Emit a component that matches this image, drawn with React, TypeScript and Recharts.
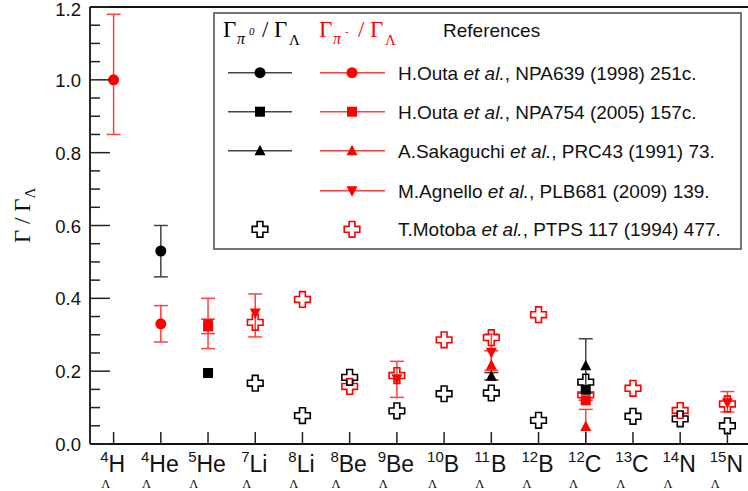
import React from 'react'
import { ComposedChart, Scatter, XAxis, YAxis, ErrorBar, ReferenceLine } from 'recharts'

const massNumbers = ['4', '4', '5', '7', '8', '8', '9', '10', '11', '12', '12', '13', '14', '15']
const symbols = ['H', 'He', 'He', 'Li', 'Li', 'Be', 'Be', 'B', 'B', 'B', 'C', 'C', 'N', 'N']
const nuclei = massNumbers.map((a, i) => a + symbols[i])

const yMajorTicks = [0, 0.2, 0.4, 0.6, 0.8, 1.0, 1.2]
const yMinorTicks = [
  0.05, 0.1, 0.15, 0.25, 0.3, 0.35, 0.45, 0.5, 0.55, 0.65, 0.7, 0.75,
  0.85, 0.9, 0.95, 1.05, 1.1, 1.15,
]

type Row = [string, number, number, number]

// [nucleus, value, error below, error above]
const outa98Pi0: Row[] = [['4He', 0.53, 0.071, 0.07]]
const outa98PiMinus: Row[] = [['4H', 1.0, 0.15, 0.18], ['4He', 0.33, 0.05, 0.05]]
const outa05Pi0: Row[] = [['5He', 0.195, 0, 0], ['12C', 0.149, 0, 0]]
const outa05PiMinus: Row[] = [['5He', 0.323, 0.02, 0.02], ['12C', 0.12, 0, 0]]
const sakaguchiPi0: Row[] = [['11B', 0.186, 0.01, 0.01], ['12C', 0.215, 0.075, 0.074]]
const sakaguchiPiMinus: Row[] = [['11B', 0.216, 0.04, 0.04], ['12C', 0.048, 0.048, 0.047]]
const agnelloPiMinus: Row[] = [
  ['5He', 0.33, 0.068, 0.07],
  ['7Li', 0.36, 0.066, 0.052],
  ['9Be', 0.179, 0.051, 0.048],
  ['11B', 0.252, 0.05, 0.05],
  ['15N', 0.113, 0.025, 0.031],
]
const motobaPi0: Row[] = [
  ['7Li', 0.167, 0, 0], ['8Li', 0.078, 0, 0], ['8Be', 0.183, 0, 0], ['9Be', 0.091, 0, 0],
  ['10B', 0.138, 0, 0], ['11B', 0.14, 0, 0], ['12B', 0.065, 0, 0], ['12C', 0.17, 0, 0],
  ['13C', 0.076, 0, 0], ['14N', 0.069, 0, 0], ['15N', 0.05, 0, 0],
]
const motobaPiMinus: Row[] = [
  ['7Li', 0.334, 0, 0], ['8Li', 0.397, 0, 0], ['8Be', 0.158, 0, 0], ['9Be', 0.188, 0, 0],
  ['10B', 0.286, 0, 0], ['11B', 0.292, 0, 0], ['12B', 0.355, 0, 0], ['12C', 0.135, 0, 0],
  ['13C', 0.153, 0, 0], ['14N', 0.092, 0, 0], ['15N', 0.11, 0, 0],
]

const toPoints = (rows: Row[]) =>
  rows.map(([nuc, y, lo, hi]) => ({ x: nuclei.indexOf(nuc) + 1, y, err: [lo, hi] }))

const BLACK = '#000'
const RED = '#ff0000'
const SANS = 'Liberation Sans, Arial, sans-serif'
const SERIF = 'Liberation Serif, Times New Roman, serif'
const PLOT_LEFT = 90
const PLOT_BOTTOM = 444

const circle = (c: string) => (p: any) => <circle cx={p.cx} cy={p.cy} r={5.5} fill={c} />
const square = (c: string) => (p: any) => (
  <rect x={p.cx - 5} y={p.cy - 5} width={10} height={10} fill={c} />
)
const triUp = (c: string) => (p: any) => (
  <polygon points={`${p.cx},${p.cy - 6} ${p.cx + 5.5},${p.cy + 4.5} ${p.cx - 5.5},${p.cy + 4.5}`} fill={c} />
)
const triDown = (c: string) => (p: any) => (
  <polygon points={`${p.cx},${p.cy + 6} ${p.cx + 5.5},${p.cy - 4.5} ${p.cx - 5.5},${p.cy - 4.5}`} fill={c} />
)
const cross = (c: string) => (p: any) => {
  const a = 7.8
  const b = 2.9
  const { cx: x, cy: y } = p
  const d = `M${x - b},${y - a} H${x + b} V${y - b} H${x + a} V${y + b} H${x + b} V${y + a} H${x - b} V${y + b} H${x - a} V${y - b} H${x - b} Z`
  return <path d={d} fill="none" stroke={c} strokeWidth={1.6} />
}

// Arial advance widths (em) for the element symbols
const glyphEm: Record<string, number> = { H: 0.722, e: 0.556, L: 0.556, i: 0.222, B: 0.667, C: 0.722, N: 0.722 }
const SYM_SIZE = 23
const SUP_SIZE = 15

function NucleusTick(props: any) {
  const { x, payload } = props
  const i = payload.value - 1
  if (i < 0 || i >= nuclei.length) return null
  const a = massNumbers[i]
  const s = symbols[i]
  const supW = a.length * 0.556 * SUP_SIZE
  const symW = s.split('').reduce((w, ch) => w + glyphEm[ch] * SYM_SIZE, 0)
  const start = x - 1 - (supW + symW) / 2
  return (
    <g fontFamily={SANS} fill="#111">
      <line x1={x} x2={x} y1={PLOT_BOTTOM} y2={PLOT_BOTTOM - 12} stroke="#222" strokeWidth={1.5} />
      <text x={start} y={462} fontSize={SUP_SIZE}>{a}</text>
      <text x={start + supW} y={472} fontSize={SYM_SIZE}>{s}</text>
      <text x={start + 1} y={488} fontSize={12.5} fontFamily={SERIF}>Λ</text>
    </g>
  )
}

function ValueTick(props: any) {
  const { y, payload } = props
  const v = payload.value
  const major = yMajorTicks.some((t) => Math.abs(t - v) < 1e-6)
  return (
    <g>
      <line x1={PLOT_LEFT} x2={PLOT_LEFT + (major ? 20 : 10)} y1={y} y2={y} stroke="#222" strokeWidth={1.5} />
      {major && (
        <text x={81} y={Math.max(y + 7, 16)} textAnchor="end" fontSize={18.5} fontFamily={SANS} fill="#111">
          {v.toFixed(1)}
        </text>
      )}
    </g>
  )
}

const blackErr = { stroke: '#444', strokeWidth: 1.5, width: 7 }
const redErr = { stroke: '#ff4040', strokeWidth: 1.5, width: 7 }

const legendRows = [
  { black: circle(BLACK), red: circle(RED), text: ['H.Outa ', 'et al.', ', NPA639 (1998) 251c.'] },
  { black: square(BLACK), red: square(RED), text: ['H.Outa ', 'et al.', ', NPA754 (2005) 157c.'] },
  { black: triUp(BLACK), red: triUp(RED), text: ['A.Sakaguchi ', 'et al.', ', PRC43 (1991) 73.'] },
  { black: null, red: triDown(RED), text: ['M.Agnello ', 'et al.', ', PLB681 (2009) 139.'] },
  { black: cross(BLACK), red: cross(RED), text: ['T.Motoba ', 'et al.', ', PTPS 117 (1994) 477.'], open: true },
]
const legendRowY = [72.7, 111.7, 150.7, 190.7, 229.3]

function RatioHeader({ x, color, sub, sup }: { x: number; color: string; sub: string; sup: string }) {
  return (
    <g fontFamily={SERIF} fill={color}>
      <text x={x} y={37} fontSize={23}>Γ</text>
      <text x={x + 14} y={44} fontSize={16} fontStyle="italic">{sub}</text>
      <text x={x + 26} y={35} fontSize={11} fontStyle="italic">{sup}</text>
      <text x={x + 39} y={37} fontSize={23}>/</text>
      <text x={x + 51} y={37} fontSize={23}>Γ</text>
      <text x={x + 66} y={45} fontSize={15}>Λ</text>
    </g>
  )
}

function Legend() {
  return (
    <svg width={748} height={491} style={{ position: 'absolute', left: 0, top: 0, pointerEvents: 'none' }}>
      <rect x={214} y={13} width={527} height={236} fill="#fff" stroke="#555" strokeWidth={1.6} />
      <RatioHeader x={223} color={BLACK} sub="π" sup="0" />
      <RatioHeader x={319} color={RED} sub="π" sup="-" />
      <text x={443} y={37} fontFamily={SANS} fontSize={19} fill="#111">References</text>
      {legendRows.map((r, i) => {
        const y = legendRowY[i]
        return (
          <g key={i}>
            {r.black && !r.open && <line x1={228} x2={292} y1={y} y2={y} stroke="#444" strokeWidth={1.5} />}
            {r.black && r.black({ cx: 260, cy: y })}
            {!r.open && <line x1={320} x2={385} y1={y} y2={y} stroke="#ff4040" strokeWidth={1.5} />}
            {r.red({ cx: 352, cy: y })}
            <text x={398} y={y + 7} fontFamily={SANS} fontSize={19} fill="#111">
              {r.text[0]}
              <tspan fontStyle="italic">{r.text[1]}</tspan>
              {r.text[2]}
            </text>
          </g>
        )
      })}
    </svg>
  )
}

export default function App() {
  const xTicks = nuclei.map((_, i) => i + 1)
  return (
    <div style={{ position: 'absolute', left: 0, top: 0, width: 752, height: 491, background: '#fff', overflow: 'hidden' }}>
      <ComposedChart width={752} height={491} margin={{ top: 7, right: 1, bottom: 0, left: 0 }}>
        <XAxis
          dataKey="x"
          type="number"
          domain={[0.5, 14.5]}
          ticks={xTicks}
          tick={<NucleusTick />}
          tickLine={false}
          height={47}
          axisLine={{ stroke: '#111', strokeWidth: 1.8 }}
          interval={0}
          allowDataOverflow
        />
        <YAxis
          dataKey="y"
          type="number"
          domain={[0, 1.2]}
          ticks={[...yMajorTicks, ...yMinorTicks]}
          tick={<ValueTick />}
          tickLine={false}
          width={90}
          axisLine={{ stroke: '#111', strokeWidth: 1.8 }}
          interval={0}
          allowDataOverflow
        />
        <ReferenceLine y={1.2} stroke="#111" strokeWidth={1.8} />
        <Scatter data={toPoints(motobaPiMinus)} dataKey="y" shape={cross(RED)} isAnimationActive={false} />
        <Scatter data={toPoints(motobaPi0)} dataKey="y" shape={cross(BLACK)} isAnimationActive={false} />
        <Scatter data={toPoints(outa98Pi0)} dataKey="y" shape={circle(BLACK)} isAnimationActive={false}>
          <ErrorBar dataKey="err" direction="y" {...blackErr} />
        </Scatter>
        <Scatter data={toPoints(sakaguchiPi0)} dataKey="y" shape={triUp(BLACK)} isAnimationActive={false}>
          <ErrorBar dataKey="err" direction="y" {...blackErr} />
        </Scatter>
        <Scatter data={toPoints(outa05Pi0)} dataKey="y" shape={square(BLACK)} isAnimationActive={false} />
        <Scatter data={toPoints(agnelloPiMinus)} dataKey="y" shape={triDown(RED)} isAnimationActive={false}>
          <ErrorBar dataKey="err" direction="y" {...redErr} />
        </Scatter>
        <Scatter data={toPoints(sakaguchiPiMinus)} dataKey="y" shape={triUp(RED)} isAnimationActive={false}>
          <ErrorBar dataKey="err" direction="y" {...redErr} />
        </Scatter>
        <Scatter data={toPoints(outa98PiMinus)} dataKey="y" shape={circle(RED)} isAnimationActive={false}>
          <ErrorBar dataKey="err" direction="y" {...redErr} />
        </Scatter>
        <Scatter data={toPoints(outa05PiMinus)} dataKey="y" shape={square(RED)} isAnimationActive={false}>
          <ErrorBar dataKey="err" direction="y" {...redErr} />
        </Scatter>
      </ComposedChart>
      <svg width={60} height={491} style={{ position: 'absolute', left: 0, top: 0 }}>
        <text transform="translate(30,243) rotate(-90)" fontFamily={SERIF} fontSize={23} fill="#111">
          Γ / Γ<tspan fontSize={15} dy={5}>Λ</tspan>
        </text>
      </svg>
      <Legend />
    </div>
  )
}
